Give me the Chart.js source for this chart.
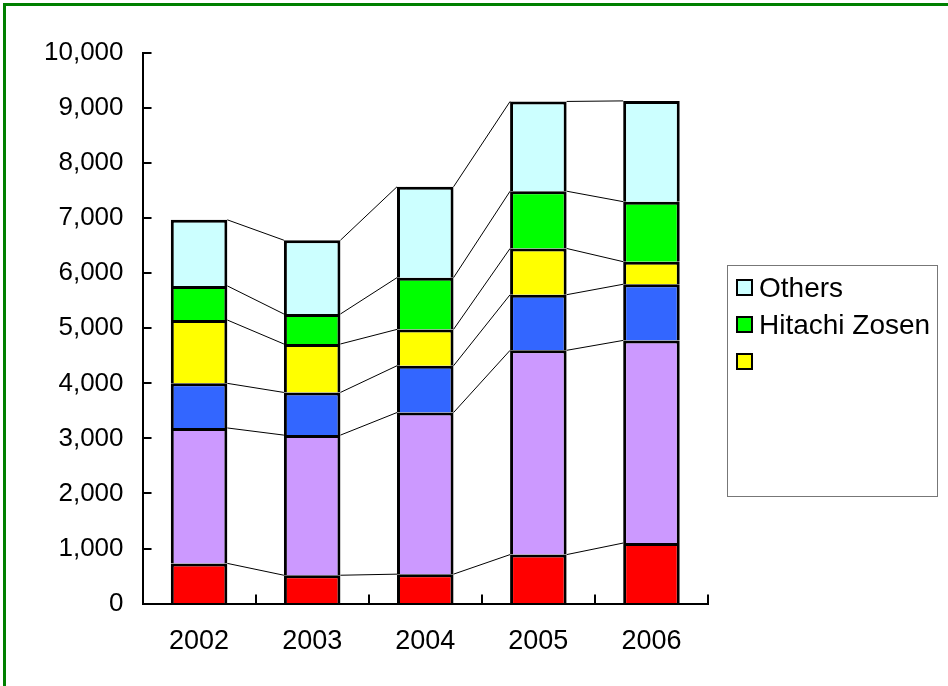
<!DOCTYPE html>
<html>
<head>
<meta charset="utf-8">
<script src="https://cdn.jsdelivr.net/npm/chart.js@4.4.1/dist/chart.umd.min.js"></script>
<style>
html, body { margin: 0; padding: 0; background: #fff; }
#wrap { position: relative; width: 948px; height: 686px; overflow: hidden; background: #fff; }
#frame { position: absolute; left: 3px; top: 3px; right: 0; bottom: 0;
         border-left: 3px solid #008000; border-top: 3px solid #008000; pointer-events: none; }
#legend { position: absolute; left: 727px; top: 265px; width: 211px; height: 232px;
          border: 1px solid #777; box-sizing: border-box; padding-top: 3px;
          font-family: 'Liberation Sans', Arial, sans-serif; font-size: 28px; color: #000; }
#legend .item { display: flex; align-items: center; height: 37px; padding-left: 8px; white-space: nowrap; }
#legend .sw { width: 13px; height: 13px; border: 2.5px solid #000; margin-right: 6px; flex: none; }
</style>
</head>
<body>
<div id="wrap">
  <canvas id="chart" width="948" height="686"></canvas>
  <div id="legend"></div>
  <div id="frame"></div>
</div>
<script>
// ── Data ────────────────────────────────────────────────────────────────────
var years      = ['2002', '2003', '2004', '2005', '2006'];
var redVals    = [730, 515, 535, 890, 1100];
var purpleVals = [2460, 2545, 2935, 3710, 3680];
var blueVals   = [810, 775, 850, 1010, 1020];
var yellowVals = [1150, 880, 660, 840, 410];
var hitachi    = [620, 545, 940, 1040, 1090];
var others     = [1200, 1340, 1650, 1630, 1830];
var yTicks     = [0, 1000, 2000, 3000, 4000, 5000, 6000, 7000, 8000, 9000, 10000];

var FONT = "'Liberation Sans', Arial, sans-serif";

function series(label, data, color, inLegend) {
    return {
        label: label,
        data: data,
        backgroundColor: color,
        borderColor: '#000',
        borderWidth: 3,
        barPercentage: 0.5,
        categoryPercentage: 1,
        inLegend: inLegend
    };
}

var datasets = [
    series('', redVals, '#FF0000', false),
    series('', purpleVals, '#CC99FF', false),
    series('', blueVals, '#3366FF', false),
    series('', yellowVals, '#FFFF00', true),
    series('Hitachi Zosen', hitachi, '#00FF00', true),
    series('Others', others, '#CCFFFF', true)
];

// lines joining the tops of matching segments between neighbouring bars
var connectors = {
    id: 'connectors',
    afterDatasetsDraw: function (chart) {
        var ctx = chart.ctx;
        ctx.save();
        ctx.strokeStyle = '#000';
        ctx.lineWidth = 1;
        chart.data.datasets.forEach(function (ds, i) {
            var bars = chart.getDatasetMeta(i).data;
            for (var j = 0; j < bars.length - 1; j++) {
                var a = bars[j], b = bars[j + 1];
                ctx.beginPath();
                ctx.moveTo(a.x + a.width / 2, a.y);
                ctx.lineTo(b.x - b.width / 2, b.y);
                ctx.stroke();
            }
        });
        ctx.restore();
    }
};

// tick marks pointing into the plot
var innerTicks = {
    id: 'innerTicks',
    afterDraw: function (chart) {
        var ctx = chart.ctx, area = chart.chartArea;
        var ys = chart.scales.y, xs = chart.scales.x;
        ctx.save();
        ctx.strokeStyle = '#000';
        ctx.lineWidth = 2;
        ys.ticks.forEach(function (t) {
            var py = Math.round(ys.getPixelForValue(t.value));
            ctx.beginPath();
            ctx.moveTo(area.left, py);
            ctx.lineTo(area.left + 9, py);
            ctx.stroke();
        });
        for (var k = 0; k <= years.length; k++) {
            var px = Math.round(xs.getPixelForValue(k - 0.5));
            ctx.beginPath();
            ctx.moveTo(px, area.bottom);
            ctx.lineTo(px, area.bottom - 9);
            ctx.stroke();
        }
        ctx.restore();
    }
};

var chart = new Chart(document.getElementById('chart').getContext('2d'), {
    type: 'bar',
    data: { labels: years, datasets: datasets },
    options: {
        responsive: false,
        animation: false,
        devicePixelRatio: 1,
        layout: { padding: { left: 25, right: 240, top: 53, bottom: 6 } },
        plugins: { legend: { display: false }, tooltip: { enabled: false } },
        scales: {
            x: {
                stacked: true,
                grid: { drawOnChartArea: false, drawTicks: false },
                border: { color: '#000', width: 2 },
                ticks: { color: '#000', padding: 22, font: { family: FONT, size: 27 } }
            },
            y: {
                stacked: true,
                min: 0,
                max: 10000,
                afterBuildTicks: function (scale) {
                    scale.ticks = yTicks.map(function (v) { return { value: v }; });
                },
                grid: { drawOnChartArea: false, drawTicks: false },
                border: { color: '#000', width: 2 },
                ticks: {
                    color: '#000',
                    padding: 19,
                    font: { family: FONT, size: 26 },
                    callback: function (v) { return v.toLocaleString('en-US'); }
                }
            }
        }
    },
    plugins: [connectors, innerTicks]
});

// legend box, top series first
var legendEl = document.getElementById('legend');
datasets.slice().reverse().forEach(function (ds) {
    if (!ds.inLegend) return;
    var row = document.createElement('div');
    row.className = 'item';
    var sw = document.createElement('span');
    sw.className = 'sw';
    sw.style.background = ds.backgroundColor;
    var txt = document.createElement('span');
    txt.textContent = ds.label;
    row.appendChild(sw);
    row.appendChild(txt);
    legendEl.appendChild(row);
});
</script>
</body>
</html>
